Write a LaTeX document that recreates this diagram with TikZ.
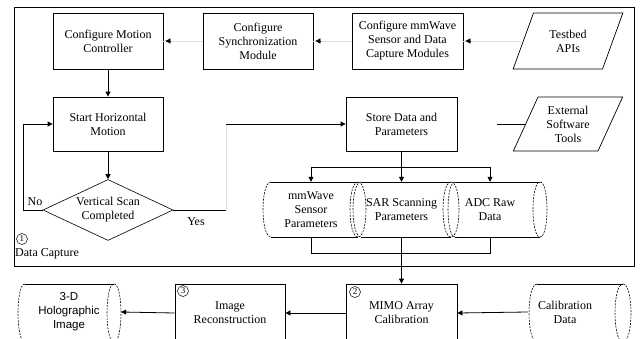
\documentclass[tikz,border=0pt]{standalone}
\usepackage{fontspec}
\setmainfont{Liberation Serif}
\newfontfamily\sansfam{Liberation Sans}
\usetikzlibrary{arrows.meta,shapes.geometric,calc}

% horizontal storage cylinder: corner x, end-ellipse centre x, top y, bottom y, x radius
\newcommand\storecyl[5]{%
  \draw[edge] (#1,#3) -- (#2,#3) (#1,#4) -- (#2,#4);
  \draw[dashcurve] (#1,#3) .. controls ({#1-1.333*#5},#3) and ({#1-1.333*#5},#4) .. (#1,#4);
  \draw[dashcurve] (#2,#3) .. controls ({#2+1.333*#5},#3) and ({#2+1.333*#5},#4) .. (#2,#4)
                          .. controls ({#2-1.333*#5},#4) and ({#2-1.333*#5},#3) .. (#2,#3);
}

\tikzset{
  txt/.style={align=center, font=\fontsize{12}{14}\selectfont, inner sep=0pt},
  box/.style={txt, draw, line width=0.8pt, minimum width=110pt, minimum height=56pt},
  para/.style={txt, draw, line width=0.7pt, trapezium, trapezium left angle=64,
               trapezium right angle=116, trapezium stretches=true,
               minimum width=110pt, minimum height=56pt},
  edge/.style={line width=0.8pt},
  flow/.style={line width=0.8pt, -{Triangle[length=5pt,width=5pt]}},
  faint/.style={line width=0.3pt, draw=black!12},
  dashcurve/.style={line width=0.6pt, dash pattern=on 2pt off 1.2pt},
  stepnum/.style={circle, draw, line width=0.5pt, inner sep=0pt, minimum size=11pt,
                  font=\fontsize{9}{9}\selectfont},
}

\begin{document}
\begin{tikzpicture}[x=1pt,y=-1pt]
\clip (0,0) rectangle (642,339);
\fill[white] (0,0) rectangle (642,339);

% data capture frame
\node[draw, line width=0.9pt, minimum width=620pt, minimum height=259pt, inner sep=0pt]
  (frame) at (324,136.5) {};

% top row
\node[box] (mc)   at (108,41)   {Configure Motion\\Controller};
\node[box] (sync) at (258,41)   {Configure\\Synchronization\\Module};
\node[box, minimum width=111pt] (mmw) at (407.5,41) {Configure mmWave\\Sensor and Data\\Capture Modules};
\node[para] (tb)  at (568,41)   {Testbed\\APIs};

% second row
\node[box, minimum height=54pt] (shm)   at (108,124)   {Start Horizontal\\Motion};
\node[box, minimum height=54pt, minimum width=111pt] (store) at (401.5,124) {Store Data and\\Parameters};
\node[para, minimum height=54pt] (ext) at (568,124) {External\\Software\\Tools};

% decision
\node[txt, diamond, draw, line width=0.6pt, aspect=2.13, minimum width=130pt,
      minimum height=61pt] (vs) at (108,210) {Vertical Scan\\Completed};

% stored data
\storecyl{271}{358}{182}{237}{8}
\storecyl{361}{451}{182}{237}{8}
\storecyl{455}{540}{182}{237}{7}
\node[txt, minimum width=80pt, minimum height=55pt] (c1) at (311,209.5) {mmWave\\Sensor\\Parameters};
\node[txt, minimum width=80pt, minimum height=55pt] (c2) at (401.5,209.5) {SAR Scanning\\Parameters};
\node[txt, minimum width=70pt, minimum height=55pt] (c3) at (490,209.5) {ADC Raw\\Data};

% bottom row
\storecyl{25}{114}{284}{342}{7}
\storecyl{537}{623}{284}{342}{8}
\node[txt, font=\sansfam\fontsize{11.5}{14}\selectfont, minimum width=104pt, minimum height=58pt]
  (holo) at (69,312) {3-D\\Holographic\\Image};
\node[box, minimum height=58pt] (rec) at (230,313) {Image\\Reconstruction};
\node[box, minimum height=58pt, minimum width=111pt] (mimo) at (401.5,313) {MIMO Array\\Calibration};
\node[txt, minimum width=74pt, minimum height=58pt] (cal) at (565,312) {Calibration\\Data};

% step markers and frame label
\node[stepnum] (s1) at (22,239) {1};
\node[txt, anchor=west] (dc) at (15,254) {Data Capture};
\node[stepnum] (s2) at (355,292) {2};
\node[stepnum] (s3) at (183,291) {3};

% configuration chain: hairline shafts, solid heads just off each box
\draw[faint] (tb.left side) -- (mmw.east);
\draw[flow] ($(mmw.east)+(8,0)$) -- ($(mmw.east)+(2,0)$);
\draw[faint] (mmw.west) -- (sync.east);
\draw[flow] ($(sync.east)+(8,0)$) -- ($(sync.east)+(2,0)$);
\draw[faint] (sync.west) -- (mc.east);
\draw[flow] ($(mc.east)+(8,0)$) -- ($(mc.east)+(2,0)$);
\draw[flow] (mc.south) -- (shm.north);

% scan loop
\draw[flow] (shm.south) -- (vs.north);
\coordinate (nol) at (23,210);
\draw[flow] (vs.west) -- (nol) |- (shm.west);
\node[txt, anchor=south] (no) at (35,206) {No};
\coordinate (yb) at (226,210);
\coordinate (yt) at (226,124);
\draw[edge] (vs.east) -- (yb);
\draw[faint] (yb) -- (yt);
\draw[flow] (yt) -- (store.west);
\node[txt] (yes) at (196,222) {Yes};

% external tools
\coordinate (exl) at (497,124);
\draw[edge] (exl) -- (ext.left side);

% storage split
\coordinate (split) at (401.5,167);
\draw[edge] (store.south) -- (split);
\draw[flow] (split) -| (c1.north);
\draw[flow] (split) -- (c2.north);
\draw[flow] (split) -| (c3.north);

% merge into calibration
\coordinate (j1) at (311,253);
\coordinate (j3) at (490,253);
\draw[edge] (c1.south) -- (j1) -- (j3) -- (c3.south);
\draw[flow] (c2.south) -- (mimo.north);

% processing chain
\draw[flow] (cal.west) -- (mimo.east);
\draw[flow] (mimo.west) -- (rec.east);
\draw[flow] (rec.west) -- (holo.east);
\end{tikzpicture}
\end{document}
